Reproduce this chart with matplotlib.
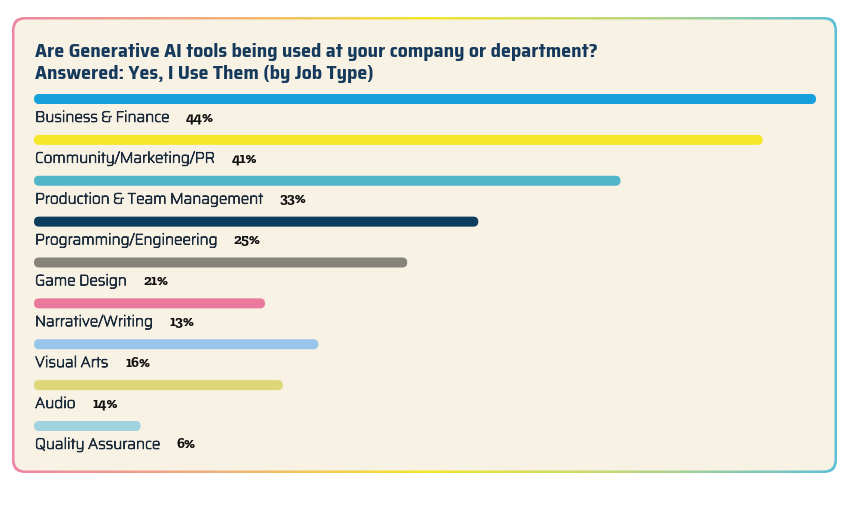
import numpy as np
import matplotlib
matplotlib.use("Agg")
import matplotlib.pyplot as plt
from matplotlib import font_manager as fm
from matplotlib import patheffects
from matplotlib.patches import FancyBboxPatch
from matplotlib.colors import LinearSegmentedColormap
import matplotlib.transforms as mtransforms

# ---- data ----
title_lines = ["Are Generative AI tools being used at your company or department?",
               "Answered: Yes, I Use Them (by Job Type)"]
categories = ["Business & Finance", "Community/Marketing/PR", "Production & Team Management",
              "Programming/Engineering", "Game Design", "Narrative/Writing", "Visual Arts",
              "Audio", "Quality Assurance"]
values = [44, 41, 33, 25, 21, 13, 16, 14, 6]
bar_colors = ["#15A0DB", "#F5E829", "#52B6CA", "#0E3D5E", "#86837B",
              "#E9799D", "#97C6EA", "#DDD77A", "#9FD3E0"]

W, H = 865, 505
CARD_BG = "#F8F2E5"
TEXT = "#1B2B3C"
TITLE = "#163A5C"

installed = {f.name for f in fm.fontManager.ttflist}


def pick(*names):
    for n in names:
        if n in installed:
            return [n, "DejaVu Sans"]
    return ["DejaVu Sans"]


title_font = pick("Saira SemiCondensed", "Saira Condensed")
label_font = pick("Saira", "Saira SemiCondensed")
value_font = pick("Zilla Slab", "DejaVu Serif")
# only a thin cut of plain Saira is installed -> thicken it with a stroke
label_fx = [patheffects.withStroke(linewidth=0.65, foreground=TEXT)] if label_font[0] == "Saira" else []

fig = plt.figure(figsize=(W / 100, H / 100), dpi=100)
fig.patch.set_facecolor("white")

# background axes in pixel units (card + gradient border)
bg = fig.add_axes([0, 0, 1, 1])
bg.set_xlim(0, W); bg.set_ylim(H, 0); bg.axis("off")
x0, y0, x1, y1 = 12, 17, 837, 473
outer = FancyBboxPatch((x0, y0), x1 - x0, y1 - y0, boxstyle="round,pad=0,rounding_size=13",
                       facecolor="none", edgecolor="none")
bg.add_patch(outer)
border_cmap = LinearSegmentedColormap.from_list(
    "border", ["#EE85A2", "#F1B07C", "#F4E62A", "#BDD77C", "#5CC0D7"])
grad = np.linspace(0, 1, 256).reshape(1, -1)
im = bg.imshow(grad, cmap=border_cmap, extent=(x0, x1, y1, y0), aspect="auto")
im.set_clip_path(outer)
bw = 2.5
bg.add_patch(FancyBboxPatch((x0 + bw, y0 + bw), x1 - x0 - 2 * bw, y1 - y0 - 2 * bw,
                            boxstyle="round,pad=0,rounding_size=11",
                            facecolor=CARD_BG, edgecolor="none"))

for i, line in enumerate(title_lines):
    bg.text(35, 52 + 22 * i, line, fontsize=14.4, fontweight="bold", color=TITLE,
            family=title_font, va="center", ha="left")

# bar axes: x 0..44 spans the card width, one row per category
px_l, px_r = 34, 816
py_t, py_b = 99, 426
ax = fig.add_axes([px_l / W, 1 - py_b / H, (px_r - px_l) / W, (py_b - py_t) / H])
ax.set_xlim(0, max(values))
ax.set_ylim(len(categories) - 1, 0)
ax.axis("off")

# rounded bars: radius of 5 px expressed in data units of each axis
bar_px = 10
x_per_px = max(values) / (px_r - px_l)
y_per_px = (len(categories) - 1) / (py_b - py_t)
bar_h = bar_px * y_per_px
for i, (v, c) in enumerate(zip(values, bar_colors)):
    ax.add_patch(FancyBboxPatch((0, i - bar_h / 2), v, bar_h,
                                boxstyle=f"round,pad=0,rounding_size={bar_px / 2 * x_per_px}",
                                mutation_aspect=y_per_px / x_per_px,
                                facecolor=c, edgecolor="none", clip_on=False))

lab_tr = mtransforms.blended_transform_factory(fig.transFigure, ax.transData)
for i, (cat, v) in enumerate(zip(categories, values)):
    t = ax.text(35 / W, i + 0.46, cat, transform=lab_tr, fontsize=10.8, color=TEXT,
                family=label_font, va="center", ha="left", path_effects=label_fx)
    ax.annotate(f"{v}%", xy=(1, 0.5), xycoords=t, xytext=(12, 0), textcoords="offset points",
                fontsize=10.8, fontweight="bold", color="#111111", family=value_font,
                va="center", ha="left")

fig.savefig("out.png", dpi=100, facecolor="white")
